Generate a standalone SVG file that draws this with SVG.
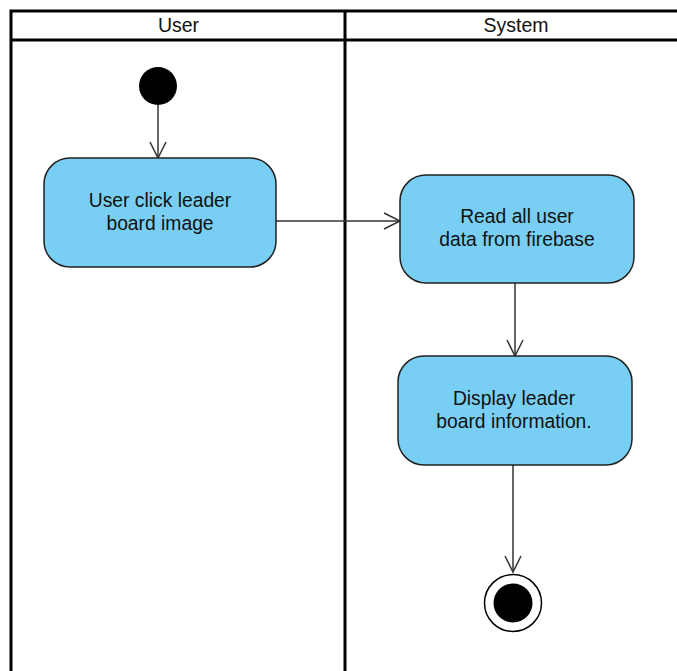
<svg xmlns="http://www.w3.org/2000/svg" width="677" height="671" viewBox="0 0 677 671">
  <defs>
    <style>
      .lane { fill: none; stroke: #000; stroke-width: 3; }
      .act { fill: #79cff3; stroke: #222; stroke-width: 1.5; }
      .lbl { font-family: "Liberation Sans", Arial, sans-serif; font-size: 19.3px; fill: #111; text-anchor: middle; }
      .hdr { font-family: "Liberation Sans", Arial, sans-serif; font-size: 19.5px; fill: #111; text-anchor: middle; }
      .flow { fill: none; stroke: #333; stroke-width: 1.5; marker-end: url(#open); }
    </style>
    <marker id="open" viewBox="0 0 20 20" refX="18" refY="10" markerWidth="20" markerHeight="20" markerUnits="userSpaceOnUse" orient="auto">
      <path d="M2,2 L18,10 L2,18" fill="none" stroke="#333" stroke-width="1.5"/>
    </marker>
  </defs>
  <rect width="677" height="671" fill="#fff"/>

  <!-- swimlanes -->
  <g id="lanes">
    <path class="lane" d="M680,11 H11 V671 M11,40 H680 M345,11 V671"/>
    <text class="hdr" x="178.5" y="32">User</text>
    <text class="hdr" x="516" y="32">System</text>
  </g>

  <!-- control flows -->
  <g id="connectors">
    <line class="flow" x1="158" y1="105" x2="158" y2="158"/>
    <line class="flow" x1="276" y1="221" x2="400" y2="221"/>
    <line class="flow" x1="515" y1="283" x2="515" y2="356"/>
    <line class="flow" x1="513" y1="465" x2="513" y2="572"/>
  </g>

  <g id="start">
    <circle cx="158" cy="86" r="19" fill="#000"/>
  </g>

  <g id="click-leaderboard">
    <rect class="act" x="44" y="158" width="232" height="109" rx="26"/>
    <text class="lbl" x="160" y="207">User click leader</text>
    <text class="lbl" x="160" y="230">board image</text>
  </g>

  <g id="read-user-data">
    <rect class="act" x="400" y="175" width="234" height="108" rx="26"/>
    <text class="lbl" x="517" y="223">Read all user</text>
    <text class="lbl" x="517" y="246">data from firebase</text>
  </g>

  <g id="display-leaderboard">
    <rect class="act" x="398" y="356" width="234" height="109" rx="26"/>
    <text class="lbl" x="514" y="405">Display leader</text>
    <text class="lbl" x="514" y="428">board information.</text>
  </g>

  <g id="end">
    <circle cx="513" cy="603" r="28.5" fill="#fff" stroke="#000" stroke-width="1.5"/>
    <circle cx="513" cy="603" r="19.5" fill="#000"/>
  </g>
</svg>
